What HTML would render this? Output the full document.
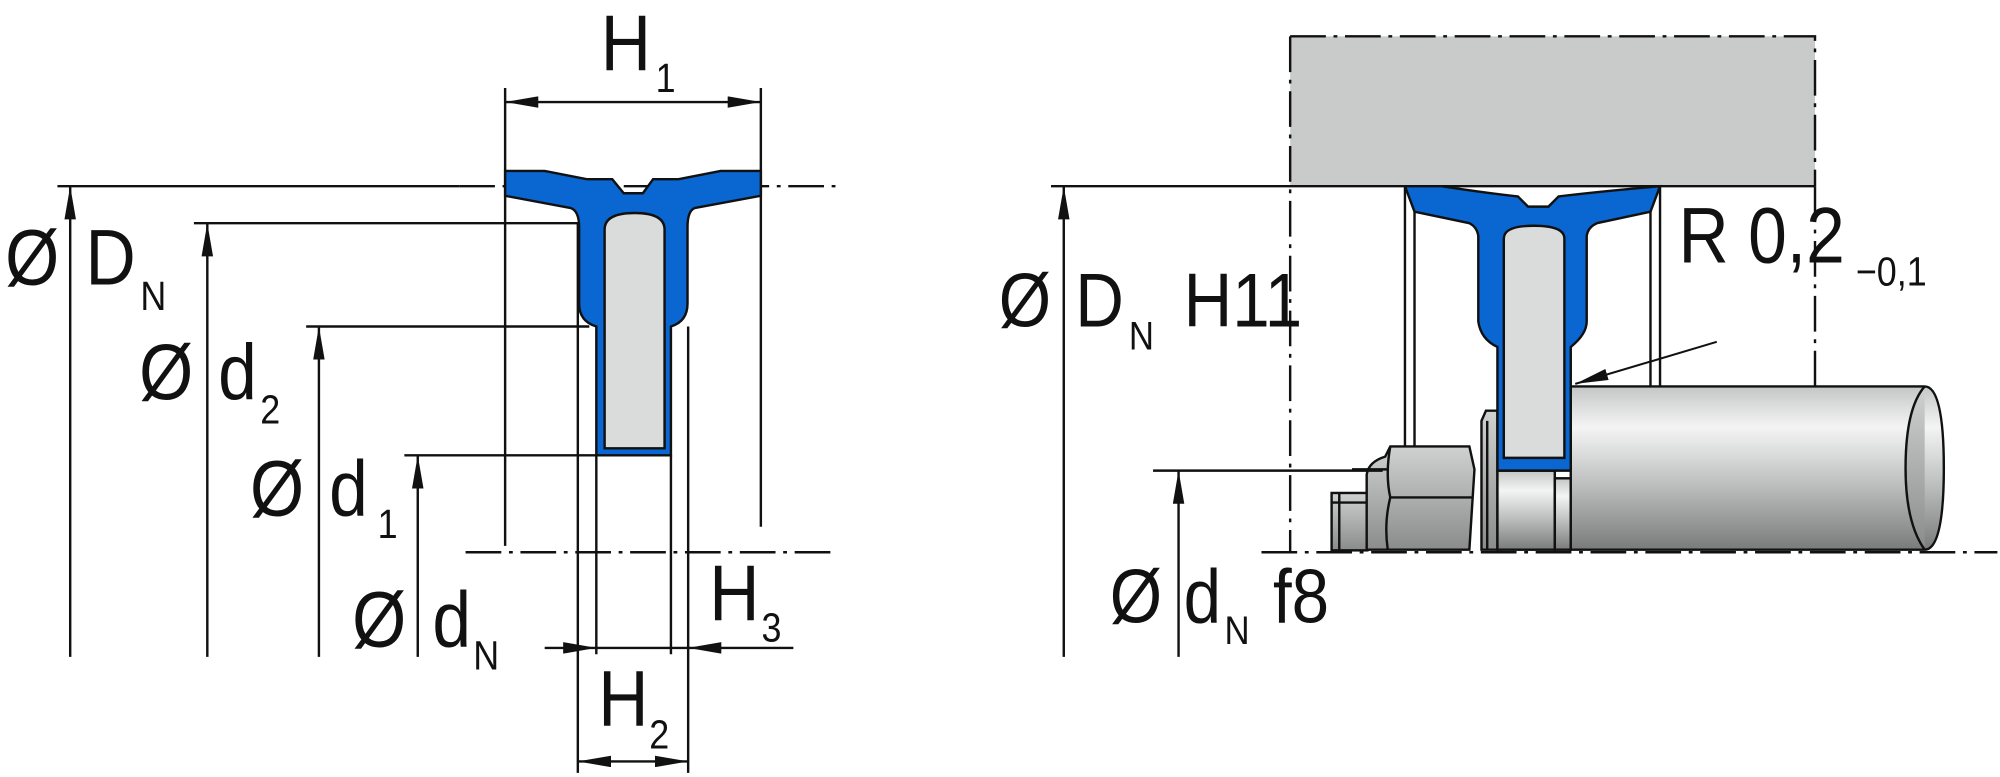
<!DOCTYPE html>
<html><head><meta charset="utf-8"><style>
html,body{margin:0;padding:0;background:#fff;}
svg{display:block;}
text{font-family:"Liberation Sans",sans-serif;fill:#111;}
</style></head><body>
<svg width="2000" height="777" viewBox="0 0 1568 609.2" xmlns="http://www.w3.org/2000/svg">
<defs>
<marker id="a" viewBox="0 0 26 9" refX="26" refY="4.5" markerWidth="26" markerHeight="9" markerUnits="userSpaceOnUse" orient="auto-start-reverse"><path d="M0,0 L26,4.5 L0,9 Z" fill="#111"/></marker>
<linearGradient id="g" x1="0" y1="0" x2="0" y2="1">
<stop offset="0" stop-color="#c4c6c6"/><stop offset="0.25" stop-color="#f4f4f4"/><stop offset="0.6" stop-color="#bdbfbf"/><stop offset="1" stop-color="#7a7c7c"/></linearGradient>
<linearGradient id="ge" x1="0" y1="0" x2="0" y2="1"><stop offset="0" stop-color="#d0d2d2"/><stop offset="1" stop-color="#8a8c8c"/></linearGradient>
</defs>
<g stroke="#111" stroke-width="1.9" fill="none">
<!-- LEFT -->
<line x1="45" y1="146" x2="360" y2="146"/>
<line x1="360" y1="146" x2="655" y2="146" stroke-dasharray="28,6,3,6"/>
<line x1="365" y1="433" x2="655" y2="433" stroke-dasharray="28,6,3,6"/>
<line x1="55" y1="515" x2="55" y2="146" marker-end="url(#a)"/>
<line x1="152" y1="175" x2="455" y2="175"/>
<line x1="162.5" y1="515" x2="162.5" y2="175" marker-end="url(#a)"/>
<line x1="240" y1="256" x2="462" y2="256"/>
<line x1="250" y1="515" x2="250" y2="256" marker-end="url(#a)"/>
<line x1="317" y1="357" x2="468" y2="357"/>
<line x1="327.5" y1="515" x2="327.5" y2="357" marker-end="url(#a)"/>
<line x1="396" y1="69" x2="396" y2="428"/>
<line x1="596.5" y1="69" x2="596.5" y2="413"/>
<line x1="396" y1="80" x2="596.5" y2="80" marker-start="url(#a)" marker-end="url(#a)"/>
<line x1="453" y1="175" x2="453" y2="606"/>
<line x1="467.5" y1="357" x2="467.5" y2="513"/>
<line x1="526" y1="357" x2="526" y2="513"/>
<line x1="539.5" y1="256" x2="539.5" y2="606"/>
<line x1="427" y1="508" x2="467.5" y2="508" marker-end="url(#a)"/>
<line x1="467.5" y1="508" x2="539.5" y2="508"/>
<line x1="622" y1="508" x2="539.5" y2="508" marker-end="url(#a)"/>
<line x1="453" y1="597" x2="539.5" y2="597" marker-start="url(#a)" marker-end="url(#a)"/>
<path d="M396,134 L427,134 L460,140.5 L480,140.5 L489,151.5 L504,151.5 L512,140.5 L532,140.5 L565,134 L596.5,134 L596.5,153.5 L545,163 Q539,165 539,178 L539,238 Q539,252 526,256 L526,357 L467.5,357 L467.5,256 Q454,252 454,238 L454,178 Q454,165 447,163 L396,153.5 Z" fill="#0a66d0"/>
<path d="M474,351.5 L474,180 Q474,167 497.5,167 Q521,167 521,180 L521,351.5 Z" fill="#dadcdc"/>
<!-- RIGHT -->
<rect x="1011.5" y="28.5" width="411.5" height="117.5" fill="#c9cbcb" stroke="none"/>
<path d="M1011.5,28.5 L1423,28.5 L1423,146" stroke-dasharray="28,6,3,6"/>
<line x1="1011.5" y1="28.5" x2="1011.5" y2="433" stroke-dasharray="28,6,3,6"/>
<line x1="1423" y1="146" x2="1423" y2="303" stroke-dasharray="28,6,3,6"/>
<line x1="824" y1="146" x2="1423" y2="146"/>
<line x1="834" y1="515" x2="834" y2="146" marker-end="url(#a)"/>
<line x1="1101.5" y1="146" x2="1101.5" y2="350"/>
<line x1="1109" y1="166" x2="1109" y2="350"/>
<line x1="1294" y1="166" x2="1294" y2="303"/>
<line x1="1301.5" y1="146" x2="1301.5" y2="303"/>
<!-- stud & nut -->
<rect x="1044" y="386.5" width="28" height="45" fill="url(#ge)"/>
<line x1="1044" y1="394" x2="1072" y2="394"/>
<line x1="1050" y1="386.5" x2="1050" y2="431"/>
<path d="M1071.5,431 L1071.5,372 Q1073,362 1086,358 L1090,350 L1152,350 L1156,368 L1152,431 Z" fill="url(#ge)"/>
<path d="M1090,350 Q1086,372 1090,390 Q1085,410 1088,431"/>
<line x1="1089" y1="390" x2="1154" y2="390"/>
<line x1="1060" y1="368" x2="1089" y2="368"/>
<!-- washer -->
<path d="M1161.5,431 L1161.5,330 L1165,322 L1174,322 L1174,431 Z" fill="url(#ge)"/>
<line x1="1166" y1="330" x2="1166" y2="431"/>
<rect x="1174" y="369" width="45" height="62" fill="url(#g)"/>
<rect x="1219" y="375" width="12.5" height="56" fill="url(#g)"/>
<!-- shaft -->
<path d="M1231.5,303 L1509,303 Q1524,303 1524,367 Q1524,431 1509,431 L1231.5,431 Z" fill="url(#g)"/>
<path d="M1509,303 Q1494,320 1494,367 Q1494,410 1509,431" fill="url(#ge)"/>
<line x1="989" y1="433" x2="1566" y2="433" stroke-dasharray="28,6,3,6"/>
<!-- seal -->
<path d="M1101.5,146 L1130,146 Q1170,152 1190,154 L1198,162 L1214,162 L1222,154 Q1255,150 1301.5,146 L1294,166 L1252,175 Q1245,178 1244,185 L1244,252 Q1244,262 1231.5,272 L1231.5,369 L1174,369 L1174,272 Q1161,266 1159,252 L1159,185 Q1158,178 1152,175 L1109,166 Z" fill="#0a66d0"/>
<path d="M1179,359 L1179,187 Q1179,177 1202.5,177 Q1226.5,177 1226.5,187 L1226.5,359 Z" fill="#dadcdc"/>
<line x1="904" y1="369" x2="1084" y2="369"/>
<line x1="924" y1="515" x2="924" y2="369" marker-end="url(#a)"/>
<line x1="1346" y1="268" x2="1235" y2="301" marker-end="url(#a)" stroke-width="1.6"/>
</g>
<g font-size="62">
<text transform="translate(471,55) scale(0.88,1)">H</text><text transform="translate(514,72) scale(0.88,1)" font-size="32">1</text>
<text transform="translate(4,223) scale(0.88,1)">Ø</text><text transform="translate(67,223) scale(0.88,1)">D</text><text transform="translate(110,243) scale(0.88,1)" font-size="32">N</text>
<text transform="translate(109,313) scale(0.88,1)">Ø</text><text transform="translate(171,313) scale(0.88,1)">d</text><text transform="translate(204,332) scale(0.88,1)" font-size="32">2</text>
<text transform="translate(196,404) scale(0.88,1)">Ø</text><text transform="translate(258,404) scale(0.88,1)">d</text><text transform="translate(296,422) scale(0.88,1)" font-size="32">1</text>
<text transform="translate(276,507) scale(0.88,1)">Ø</text><text transform="translate(339,507) scale(0.88,1)">d</text><text transform="translate(371,525) scale(0.88,1)" font-size="32">N</text>
<text transform="translate(556,486) scale(0.88,1)">H</text><text transform="translate(597,503) scale(0.88,1)" font-size="32">3</text>
<text transform="translate(469,569) scale(0.88,1)">H</text><text transform="translate(509,587) scale(0.88,1)" font-size="32">2</text>
<text transform="translate(783,256) scale(0.88,1)" font-size="60">Ø</text><text transform="translate(843,256) scale(0.88,1)" font-size="60">D</text><text transform="translate(885,274) scale(0.88,1)" font-size="31">N</text><text transform="translate(928,256) scale(0.88,1)" font-size="60">H11</text>
<text transform="translate(870,488) scale(0.88,1)" font-size="60">Ø</text><text transform="translate(928,488) scale(0.88,1)" font-size="60">d</text><text transform="translate(960,505) scale(0.88,1)" font-size="31">N</text><text transform="translate(998,488) scale(0.88,1)" font-size="60">f8</text>
<text transform="translate(1316,206) scale(0.88,1)" font-size="62">R 0,2</text><text transform="translate(1455,224) scale(0.88,1)" font-size="32">−0,1</text>
</g>
</svg>
</body></html>
